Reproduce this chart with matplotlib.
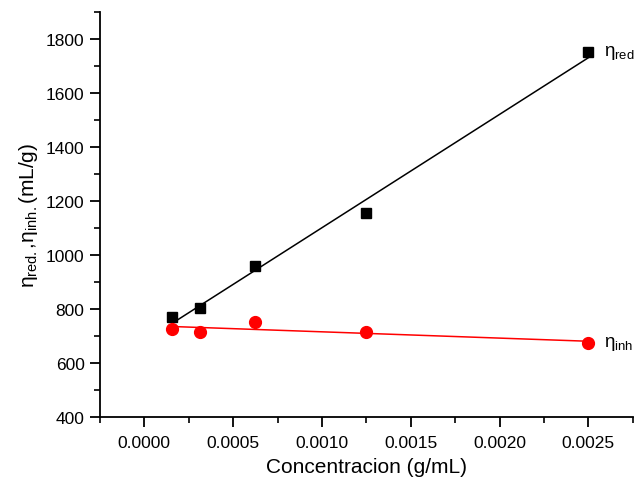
import matplotlib
matplotlib.use("Agg")
import matplotlib.pyplot as plt
import numpy as np
from matplotlib.ticker import MultipleLocator, FormatStrFormatter

plt.rcParams['font.family'] = ['Liberation Sans', 'DejaVu Sans']
plt.rcParams['mathtext.fontset'] = 'custom'
plt.rcParams['mathtext.rm'] = 'Liberation Sans'
plt.rcParams['mathtext.it'] = 'Liberation Sans:italic'

conc = [0.00015625, 0.0003125, 0.000625, 0.00125, 0.0025]
eta_red = [770, 803, 959, 1155, 1752]
eta_inh = [726, 715, 752, 714, 674]

fig = plt.figure(figsize=(6.36, 4.81), dpi=100)
ax = fig.add_axes([0.157, 0.131, 0.838, 0.842])

c = np.array(conc)
for y, col, mk, ms, lab in [(eta_red, 'black', 's', 7.5, r'$\mathrm{η}_{\mathrm{red}}$'),
                            (eta_inh, 'red', 'o', 8.5, r'$\mathrm{η}_{\mathrm{inh}}$')]:
    p = np.polyfit(c, np.array(y), 1)
    xf = np.array([c.min(), c.max()])
    ax.plot(xf, np.polyval(p, xf), color=col, lw=1.1, zorder=2)
    ax.plot(c, y, linestyle='none', marker=mk, ms=ms, color=col, mec=col, zorder=3)
    ax.annotate(lab, xy=(c[-1], y[-1]), xytext=(11, 0), textcoords='offset points',
                ha='left', va='center', fontsize=13.5, annotation_clip=False)

ax.set_xlim(-0.00025, 0.00275)
ax.set_ylim(400, 1900)
ax.xaxis.set_major_locator(MultipleLocator(0.0005))
ax.xaxis.set_minor_locator(MultipleLocator(0.00025))
ax.xaxis.set_major_formatter(FormatStrFormatter('%.4f'))
ax.yaxis.set_major_locator(MultipleLocator(200))
ax.yaxis.set_minor_locator(MultipleLocator(100))

for s in ['top', 'right']:
    ax.spines[s].set_visible(False)
for s in ['left', 'bottom']:
    ax.spines[s].set_linewidth(1.3)

ax.tick_params(which='major', direction='out', length=7, width=1.3, labelsize=12.5, pad=4)
ax.tick_params(which='minor', direction='out', length=4, width=1.2)
ax.tick_params(axis='x', which='major', pad=6)

ax.set_xlabel('Concentracion (g/mL)', fontsize=15, labelpad=5)
ax.set_ylabel(r'$\mathrm{η}_{\mathrm{red.}}$,$\mathrm{η}_{\mathrm{inh.}}$(mL/g)', fontsize=15, labelpad=4)

fig.savefig('out.png', dpi=100)
